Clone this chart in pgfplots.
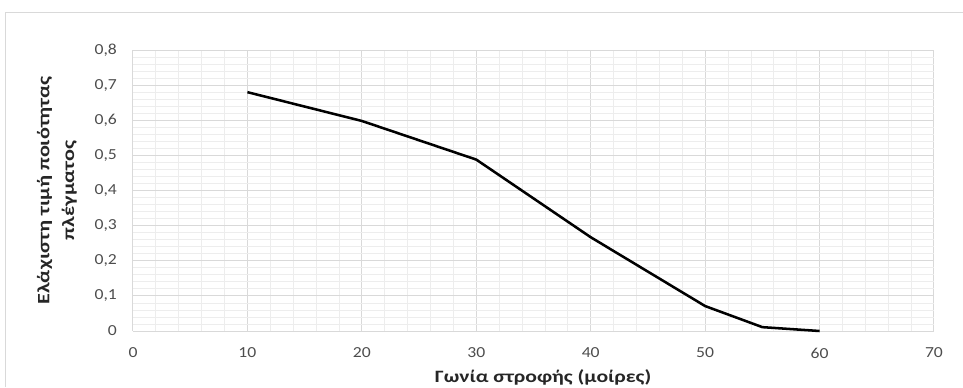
\documentclass[border=0pt]{standalone}
\usepackage{pgfplots}
\pgfplotsset{compat=1.18}
\usetikzlibrary{calc}
\usepackage{fontspec}
\setmainfont{Carlito}
\definecolor{majgrid}{HTML}{D9D9D9}
\definecolor{mingrid}{HTML}{EDEDED}
\definecolor{ticktxt}{HTML}{4D4D4D}
\definecolor{frame}{HTML}{D9D9D9}
\begin{document}
\begin{tikzpicture}
\begin{axis}[
  name=ax,
  at={(0,0)}, anchor=south west,
  scale only axis,
  width=600.75pt, height=210.75pt,
  xmin=0, xmax=70, ymin=0, ymax=0.8,
  xtick={0,10,...,70},
  ytick={0,0.1,...,0.8},
  minor x tick num=4,
  minor y tick num=4,
  grid=both,
  major grid style={majgrid, line width=0.75pt},
  minor grid style={mingrid, line width=0.6pt},
  axis line style={draw=none},
  axis x line*=bottom,
  axis y line*=left,
  x axis line style={majgrid},
  tick style={draw=none},
  ticklabel style={font=\fontsize{11.5}{13}\selectfont, text=ticktxt},
  xticklabel style={yshift=-9pt, xscale=1.15},
  yticklabel style={xshift=-8pt, xscale=1.15},
  /pgf/number format/assume math mode=true,
  yticklabels={0,{0,1},{0,2},{0,3},{0,4},{0,5},{0,6},{0,7},{0,8}},
  xlabel={Γωνία στροφής (μοίρες)},
  ylabel={Ελάχιστη τιμή ποιότητας\\πλέγματος},
  label style={font=\bfseries\fontsize{13}{18.5}\selectfont, text=black!85},
  xlabel style={at={(axis description cs:0.512,-0.1637)}, anchor=center, xscale=1.25},
  ylabel style={at={(axis description cs:-0.0949,0.5)}, anchor=center, align=center, xscale=1.28},
  clip=false,
]
\addplot[black, line width=1.9pt] coordinates {
  (10,0.680) (20,0.598) (30,0.488) (40,0.267) (50,0.071) (55,0.011) (60,0.0)
};
\end{axis}
\pgfresetboundingbox
\coordinate (o) at ($(ax.south west)+(-99.75pt,-42pt)$);
\path[use as bounding box] (o) rectangle ($(o)+(722.25pt,290.25pt)$);
\draw[frame, line width=0.75pt] ($(o)+(4.5pt,0)$) -- ($(o)+(4.5pt,281.25pt)$) -- ($(o)+(722.25pt,281.25pt)$);
\end{tikzpicture}
\end{document}
